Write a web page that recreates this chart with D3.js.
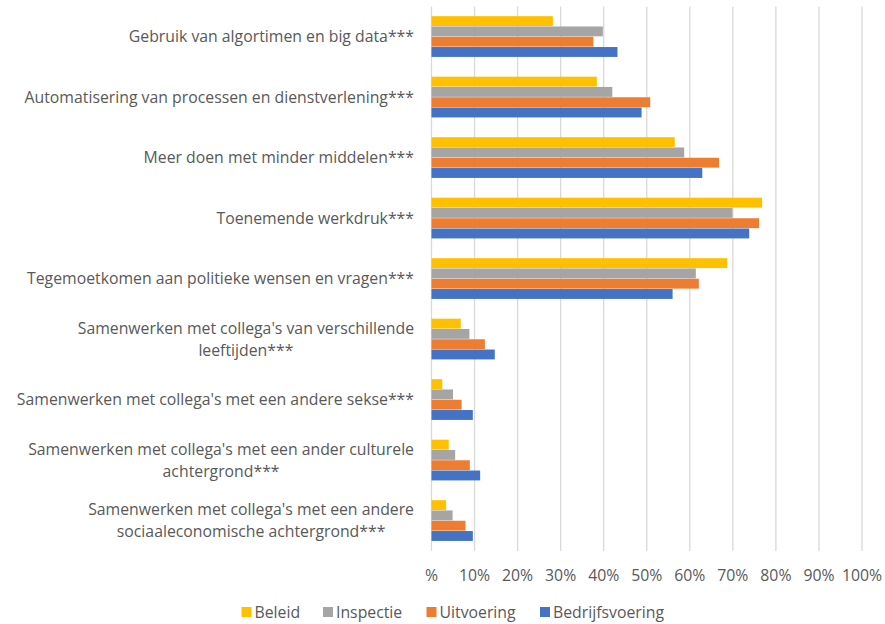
<!DOCTYPE html>
<html>
<head>
<meta charset="utf-8">
<script src="https://cdn.jsdelivr.net/npm/d3@7"></script>
<style>
  body { margin: 0; background: #fff; }
  text { font-family: "Open Sans", Lato, sans-serif; fill: #595959; }
</style>
</head>
<body>
<div id="chart"></div>
<script>
var width = 885;
var height = 624;

var categories = [
    ["Gebruik van algortimen en big data***"],
    ["Automatisering van processen en dienstverlening***"],
    ["Meer doen met minder middelen***"],
    ["Toenemende werkdruk***"],
    ["Tegemoetkomen aan politieke wensen en vragen***"],
    ["Samenwerken met collega's van verschillende", "leeftijden***"],
    ["Samenwerken met collega's met een andere sekse***"],
    ["Samenwerken met collega's met een ander culturele", "achtergrond***"],
    ["Samenwerken met collega's met een andere", "sociaaleconomische achtergrond***"]
];

var seriesNames = ["Beleid", "Inspectie", "Uitvoering", "Bedrijfsvoering"];
var colors = ["#FFC000", "#A5A5A5", "#ED7D31", "#4472C4"];

var beleid       = [28.2, 38.4, 56.5, 76.8, 68.7, 6.8, 2.5, 4.0, 3.4];
var inspectie    = [39.8, 42.0, 58.7, 69.9, 61.4, 8.8, 5.0, 5.5, 4.9];
var uitvoering   = [37.6, 50.8, 66.8, 76.1, 62.1, 12.4, 7.0, 8.9, 7.9];
var bedrijfs     = [43.2, 48.8, 62.9, 73.8, 56.0, 14.7, 9.6, 11.3, 9.6];
var seriesValues = [beleid, inspectie, uitvoering, bedrijfs];

var tickValues = [0, 10, 20, 30, 40, 50, 60, 70, 80, 90, 100];
var tickLabels = ["%", "10%", "20%", "30%", "40%", "50%", "60%", "70%", "80%", "90%", "100%"];

var plotLeft = 431.5, plotRight = 862, plotTop = 6.5, plotBottom = 551;
var fontSize = "15.8px";

var svg = d3.select("#chart").append("svg")
    .attr("width", width)
    .attr("height", height);

/* Scales */
var xScale = d3.scaleLinear().domain([0, 100]).range([plotLeft, plotRight]);
var yScale = d3.scaleBand()
    .domain(d3.range(categories.length))
    .range([plotTop, plotBottom])
    .paddingInner(0.32)
    .paddingOuter(0.16);
var ySub = d3.scaleBand()
    .domain(d3.range(seriesNames.length))
    .range([0, yScale.bandwidth()]);

/* Gridlines */
svg.append("g")
    .selectAll("line")
    .data(tickValues).enter()
    .append("line")
    .attr("x1", d => xScale(d))
    .attr("x2", d => xScale(d))
    .attr("y1", plotTop)
    .attr("y2", plotBottom)
    .attr("stroke", "#d9d9d9")
    .attr("stroke-width", 1.3);

/* Bars */
var groups = svg.append("g")
    .selectAll("g")
    .data(categories).enter()
    .append("g")
    .attr("transform", (d, i) => `translate(0, ${yScale(i)})`);

groups.selectAll("rect")
    .data((d, i) => seriesValues.map((s, j) => ({s: j, v: s[i]}))).enter()
    .append("rect")
    .attr("x", xScale(0))
    .attr("y", d => ySub(d.s))
    .attr("width", d => xScale(d.v) - xScale(0))
    .attr("height", ySub.bandwidth() - 0.4)
    .attr("fill", d => colors[d.s]);

/* Category labels, multi-line ones centred on each other */
var labelRight = 414;
var lineHeight = 22;
var labels = svg.append("g")
    .selectAll("g")
    .data(categories).enter()
    .append("g")
    .attr("transform", (d, i) => `translate(0, ${yScale(i) + yScale.bandwidth() / 2})`);

labels.each(function(lines) {
    var g = d3.select(this);
    var texts = g.selectAll("text")
        .data(lines).enter()
        .append("text")
        .attr("font-size", fontSize)
        .attr("dy", (d, k) => ((k - (lines.length - 1) / 2) * lineHeight + 5.5) + "px")
        .text(d => d);
    var maxW = 0;
    texts.each(function() { maxW = Math.max(maxW, this.getComputedTextLength()); });
    texts.attr("text-anchor", "middle").attr("x", labelRight - maxW / 2);
});

/* X axis labels */
svg.append("g")
    .selectAll("text")
    .data(tickValues).enter()
    .append("text")
    .attr("x", d => xScale(d))
    .attr("y", 581)
    .attr("text-anchor", "middle")
    .attr("font-size", fontSize)
    .text((d, i) => tickLabels[i]);

/* Legend */
var legendX = [241.5, 323, 426.5, 540];
var legend = svg.append("g")
    .selectAll("g")
    .data(seriesNames).enter()
    .append("g")
    .attr("transform", (d, i) => `translate(${legendX[i]}, 612)`);

legend.append("rect")
    .attr("x", 0)
    .attr("y", -5)
    .attr("width", 10)
    .attr("height", 10)
    .attr("fill", (d, i) => colors[i]);

legend.append("text")
    .attr("x", 13)
    .attr("y", 5.5)
    .attr("font-size", fontSize)
    .text(d => d);
</script>
</body>
</html>
